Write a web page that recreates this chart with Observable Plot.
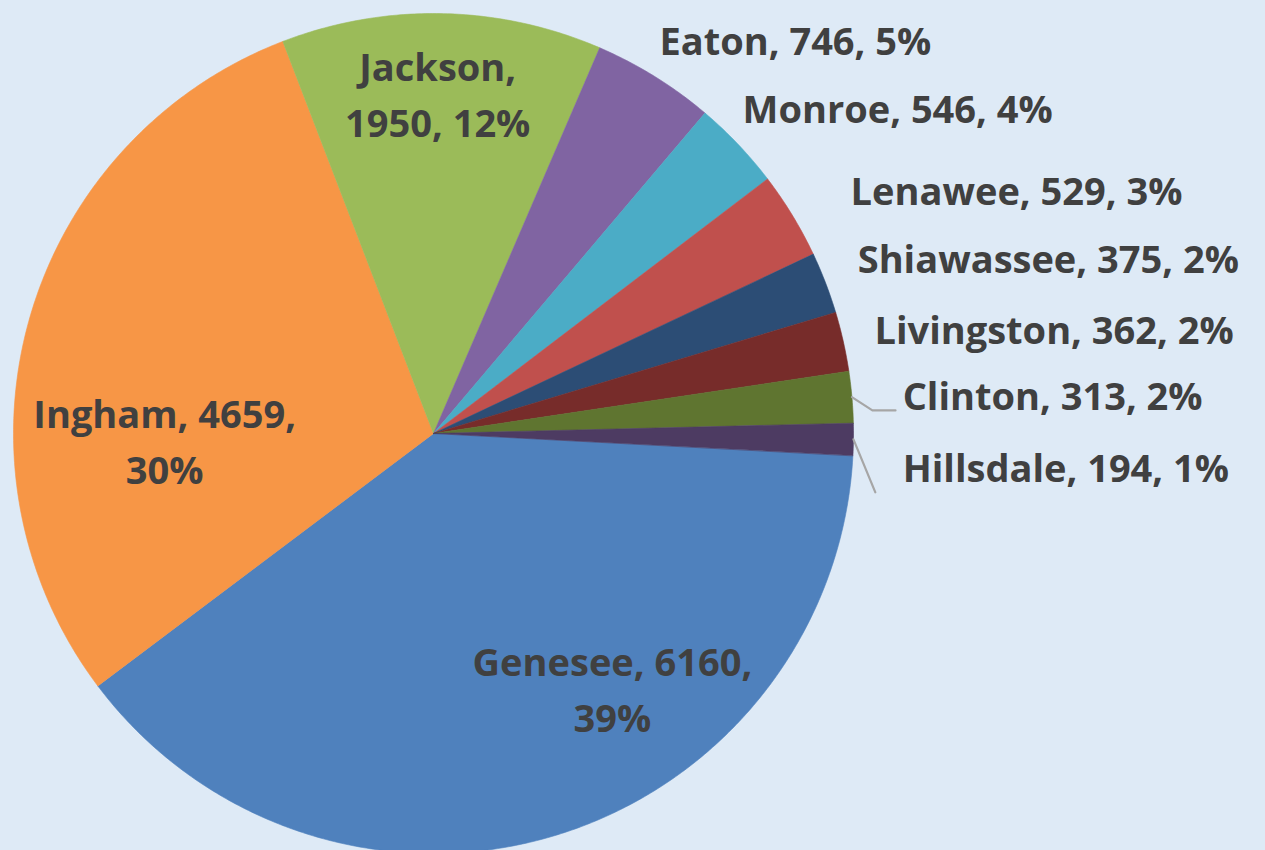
<!DOCTYPE html>
<html>
<head>
<meta charset="utf-8">
<script src="https://cdn.jsdelivr.net/npm/d3@7"></script>
<script src="https://cdn.jsdelivr.net/npm/@observablehq/plot@0.6"></script>
<style>
  html, body { margin: 0; padding: 0; background: #deeaf6; }
  #chart svg { display: block; background: #deeaf6; }
</style>
</head>
<body>
<div id="chart"></div>
<script>
// ---- data ----
const counties = ["Genesee", "Ingham", "Jackson", "Eaton", "Monroe", "Lenawee", "Shiawassee", "Livingston", "Clinton", "Hillsdale"];
const counts = [6160, 4659, 1950, 746, 546, 529, 375, 362, 313, 194];
const percentLabels = ["39%", "30%", "12%", "5%", "4%", "3%", "2%", "2%", "2%", "1%"];
const colors = ["#4f81bd", "#f79646", "#9bbb59", "#8064a2", "#4bacc6", "#c0504d", "#2c4d75", "#772c2a", "#5f7530", "#4d3b62"];

// ---- layout (in pie-radius units) ----
const firstSliceAngle = 93; // degrees, clockwise from 12 o'clock
const labelLayout = [
  {x: 0.426, y: 0.602, anchor: "middle", wrap: "count"},
  {x: -0.640, y: 0.010, anchor: "middle", wrap: "count"},
  {x: 0.010, y: -0.815, anchor: "middle", wrap: "name"},
  {x: 0.538, y: -0.943, anchor: "start"},
  {x: 0.736, y: -0.783, anchor: "start"},
  {x: 0.993, y: -0.588, anchor: "start"},
  {x: 1.010, y: -0.424, anchor: "start"},
  {x: 1.050, y: -0.255, anchor: "start"},
  {x: 1.117, y: -0.098, anchor: "start", leader: [[1.045, -0.055], [1.100, -0.055]]},
  {x: 1.117, y: 0.072, anchor: "start", leader: [[1.052, 0.140]]}
];

// ---- pie geometry from the data ----
const a0 = firstSliceAngle * Math.PI / 180;
const arcs = d3.pie().sort(null).startAngle(a0).endAngle(a0 + 2 * Math.PI)(counts);

const slices = arcs.flatMap((a, i) => {
  const n = Math.max(2, Math.ceil((a.endAngle - a.startAngle) / (Math.PI / 360)));
  const pts = [{county: counties[i], x: 0, y: 0}];
  for (let k = 0; k <= n; k++) {
    const t = a.startAngle + (a.endAngle - a.startAngle) * k / n;
    pts.push({county: counties[i], x: Math.sin(t), y: -Math.cos(t)});
  }
  return pts;
});

const labels = counties.map((c, i) => {
  const L = labelLayout[i];
  let text;
  if (L.wrap === "name") text = `${c},\n${counts[i]}, ${percentLabels[i]}`;
  else if (L.wrap === "count") text = `${c}, ${counts[i]},\n${percentLabels[i]}`;
  else text = `${c}, ${counts[i]}, ${percentLabels[i]}`;
  return {county: c, x: L.x, y: L.y, anchor: L.anchor, text};
});

const leaders = counties.flatMap((c, i) => {
  const L = labelLayout[i];
  if (!L.leader) return [];
  const a = arcs[i];
  const mid = (a.startAngle + a.endAngle) / 2;
  return [{county: c, x: Math.sin(mid), y: -Math.cos(mid)}, ...L.leader.map(([x, y]) => ({county: c, x, y}))];
});

const textStyle = {fontFamily: "Open Sans", fontWeight: 700, fontSize: 38, fill: "#404040", lineHeight: 1.48};

const chart = Plot.plot({
  width: 1265,
  height: 850,
  margin: 0,
  style: {background: "#deeaf6", overflow: "visible"},
  x: {domain: [-1, 1], range: [13, 853], axis: null},
  y: {domain: [-1, 1], range: [13, 853], axis: null},
  color: {domain: counties, range: colors},
  marks: [
    Plot.line(slices, {x: "x", y: "y", z: "county", fill: "county", stroke: "county", strokeWidth: 0.6, curve: "linear-closed"}),
    Plot.line(leaders, {x: "x", y: "y", z: "county", stroke: "#a6a6a6", strokeWidth: 2.2}),
    Plot.text(labels.filter(d => d.anchor === "middle"), {x: "x", y: "y", text: "text", textAnchor: "middle", ...textStyle}),
    Plot.text(labels.filter(d => d.anchor === "start"), {x: "x", y: "y", text: "text", textAnchor: "start", ...textStyle})
  ]
});

document.getElementById("chart").append(chart);
</script>
</body>
</html>
